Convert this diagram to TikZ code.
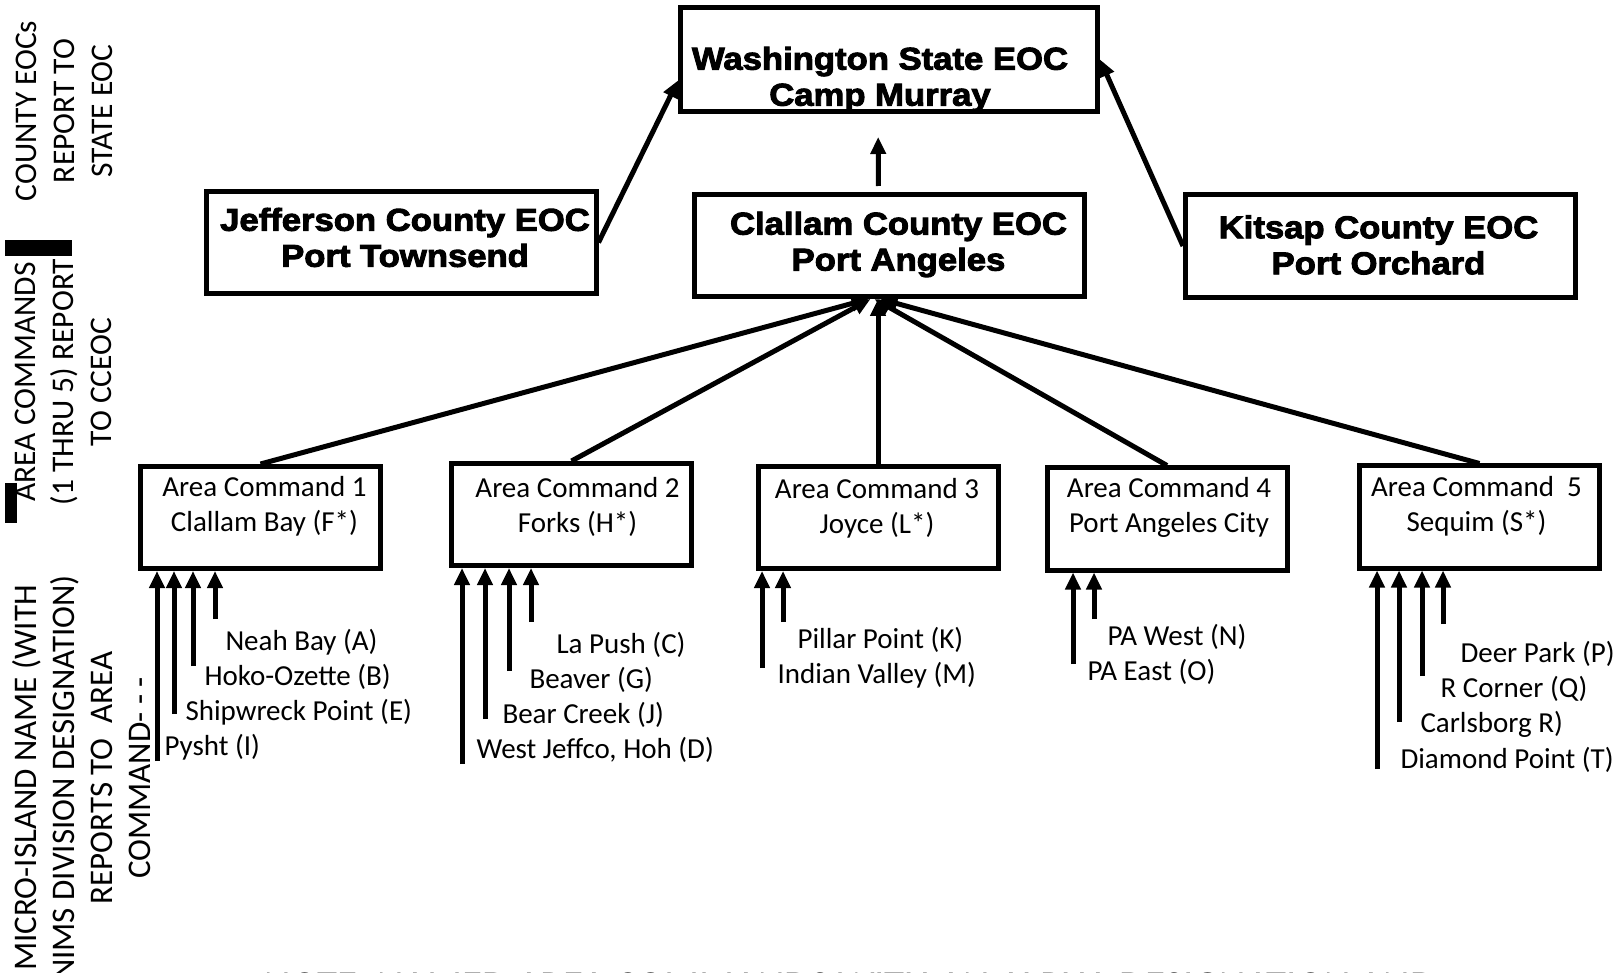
\documentclass[tikz,border=0pt]{standalone}
\usepackage{fontspec}
\setmainfont{Carlito}
\newfontfamily\heavyfont[FakeStretch=1.1,BoldFeatures={FakeBold=3}]{Liberation Sans}
\usetikzlibrary{arrows.meta,positioning}

\begin{document}
\begin{tikzpicture}[->, >={Triangle[length=17pt, width=15pt]}, x=1pt, y=-1pt,
                    line width=5pt, font=\fontsize{29}{35}\selectfont]
  \tikzstyle{eocbox}=[draw, minimum width=390pt, minimum height=102pt, inner sep=0pt]
  \tikzstyle{eoctext}=[align=center, inner sep=0pt, font=\heavyfont\bfseries\fontsize{31.5}{36}\selectfont]
  \tikzstyle{areabox}=[draw, minimum width=240pt, minimum height=102pt, inner sep=0pt]
  \tikzstyle{areatext}=[align=center, inner sep=0pt]
  \tikzstyle{unit}=[anchor=west, inner sep=0pt]
  \tikzstyle{side}=[rotate=90, align=center, inner sep=0pt, font=\fontsize{31.5}{38}\selectfont]

  \useasboundingbox (0,0) rectangle (1618,973);

  \node[eocbox, minimum width=417pt, minimum height=104pt] (wa) at (889,59.5) {};
  \node[eocbox] (jf) at (401,242.5) {};
  \node[eocbox] (cl) at (889.5,245.5) {};
  \node[eocbox, minimum height=103pt] (kp) at (1380.5,246) {};
  \node[eoctext] (wat) at ([shift={(-9,20)}]wa.center) {Washington State EOC\\Camp Murray};
  \node[eoctext] (jft) at ([shift={(4,-5)}]jf.center)  {Jefferson County EOC\\Port Townsend};
  \node[eoctext] (clt) at ([shift={(9,-1)}]cl.center)  {Clallam County EOC\\Port Angeles};
  \node[eoctext] (kpt) at ([shift={(-2,-1)}]kp.center) {Kitsap County EOC\\Port Orchard};

  \node[areabox] (ac1) at (260.5,517.5) {};
  \node[areabox] (ac2) at (571.5,514.5) {};
  \node[areabox] (ac3) at (878,517.5)   {};
  \node[areabox] (ac4) at (1167,519)    {};
  \node[areabox] (ac5) at (1479.5,517)  {};
  \node[areatext] (ac1t) at ([shift={(4,-11)}]ac1.center)  {Area Command 1\\Clallam Bay (F*)};
  \node[areatext] (ac2t) at ([shift={(6,-8)}]ac2.center)   {Area Command 2\\Forks (H*)};
  \node[areatext] (ac3t) at ([shift={(-1,-9)}]ac3.center)  {Area Command 3\\Joyce (L*)};
  \node[areatext] (ac4t) at ([shift={(2,-12)}]ac4.center)  {Area Command 4\\Port Angeles City};
  \node[areatext] (ac5t) at ([shift={(-3,-11)}]ac5.center) {Area Command~ 5\\Sequim (S*)};

  \node[unit] (neah)    at (223,642)  {Neah Bay (A)};
  \node[unit] (hoko)    at (202,677)  {Hoko-Ozette (B)};
  \node[unit] (ship)    at (183,712)  {Shipwreck Point (E)};
  \node[unit] (pysht)   at (162,747)  {Pysht (I)};
  \node[unit] (lapush)  at (554,645)  {La Push (C)};
  \node[unit] (beaver)  at (527,680)  {Beaver (G)};
  \node[unit] (bear)    at (500,715)  {Bear Creek (J)};
  \node[unit] (wjeff)   at (474,750)  {West Jeffco, Hoh (D)};
  \node[unit] (pillar)  at (795,640)  {Pillar Point (K)};
  \node[unit] (indian)  at (775,675)  {Indian Valley (M)};
  \node[unit] (pawest)  at (1105,637) {PA West (N)};
  \node[unit] (paeast)  at (1085,672) {PA East (O)};
  \node[unit] (deer)    at (1458,654) {Deer Park (P)};
  \node[unit] (rcorner) at (1438,689) {R Corner (Q)};
  \node[unit] (carls)   at (1418,724) {Carlsborg R)};
  \node[unit] (diamond) at (1398,760) {Diamond Point (T)};

  \coordinate (a1) at (215,619);  \coordinate (b1) at (193,666);
  \coordinate (e1) at (174,714);  \coordinate (i1) at (157,761);
  \coordinate (c2) at (531,622);  \coordinate (g2) at (509,671);
  \coordinate (j2) at (485,719);  \coordinate (d2) at (462,764);
  \coordinate (k3) at (783,622);  \coordinate (m3) at (762,668);
  \coordinate (n4) at (1094,619); \coordinate (o4) at (1073,664);
  \coordinate (p5) at (1443,624); \coordinate (q5) at (1422,676);
  \coordinate (r5) at (1399,722); \coordinate (t5) at (1377,769);
  \coordinate (hub) at ([xshift=-17pt]cl.south);

  \node[side] (lvl1) at (64,111)    {COUNTY EOCs\\REPORT TO\\STATE EOC};
  \node[side] (lvl2) at (63,382)    {AREA COMMANDS\\(1 THRU 5) REPORT\\TO CCEOC};
  \node[side, font=\fontsize{33}{38}\selectfont] (lvl3) at (81.5,778)
       {MICRO-ISLAND NAME (WITH\\NIMS DIVISION DESIGNATION)\\REPORTS TO~ AREA\\COMMAND- - -};
  \node[anchor=base, inner sep=0pt, font=\fontsize{41}{48}\selectfont] (note) at (850,999)
       {NOTE: NAMED AREA COMMANDS WITH AN ALPHA DESIGNATION AND};
  \fill (5,240) rectangle (72,256);
  \fill (5,483) rectangle (17,523);

  \path (jf.east) edge ([yshift=-21pt]wa.west)
        (kp.west) edge (wa.east)
        ([xshift=-11pt]cl.north) edge[shorten <=6pt, shorten >=23pt] ([xshift=-11pt]wa.south)
        (ac1.north) edge ([xshift=-4pt]hub)
        (ac2.north) edge ([xshift=-2pt]hub)
        (ac3.north) edge (ac3.north |- cl.south)
        (ac4.north) edge ([xshift=2pt]hub)
        (ac5.north) edge ([xshift=8pt]hub);

  \path (a1) edge (a1 |- ac1.south)  (b1) edge (b1 |- ac1.south)
        (e1) edge (e1 |- ac1.south)  (i1) edge (i1 |- ac1.south)
        (c2) edge (c2 |- ac2.south)  (g2) edge (g2 |- ac2.south)
        (j2) edge (j2 |- ac2.south)  (d2) edge (d2 |- ac2.south)
        (k3) edge (k3 |- ac3.south)  (m3) edge (m3 |- ac3.south)
        (n4) edge (n4 |- ac4.south)  (o4) edge (o4 |- ac4.south)
        (p5) edge (p5 |- ac5.south)  (q5) edge (q5 |- ac5.south)
        (r5) edge (r5 |- ac5.south)  (t5) edge (t5 |- ac5.south);
\end{tikzpicture}
\end{document}
